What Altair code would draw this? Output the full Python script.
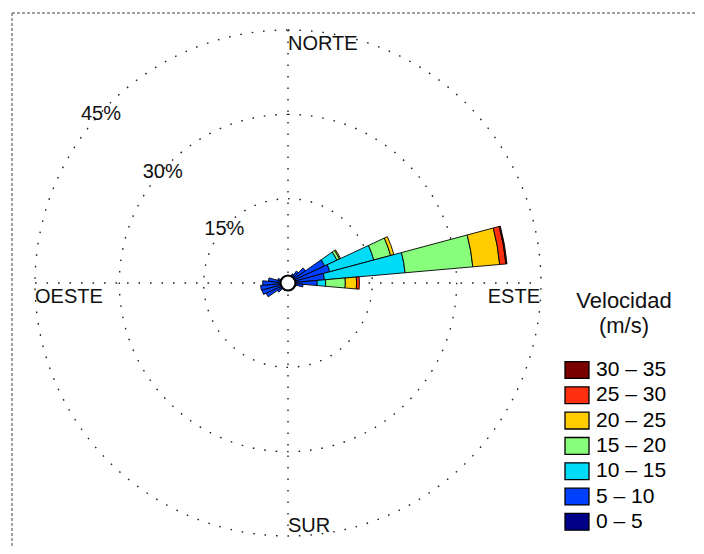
import math
import altair as alt
import pandas as pd

# ---------------- data ----------------
directions = [30, 40, 50, 60, 70, 80, 90, 100, 110, 230, 240, 250, 260, 270, 280, 290]
speed_bins = ["0 – 5", "5 – 10", "10 – 15", "15 – 20", "20 – 25", "25 – 30", "30 – 35"]
freq_0_5   = [1.5, 1.4, 1.3, 1.3, 1.4, 1.5, 1.2, 1.3, 1.0, 1.1, 1.3, 1.4, 1.4, 1.3, 1.2, 1.1]
freq_5_10  = [0.3, 1.2, 2.5, 5.9, 6.3, 5.0, 4.0, 1.4, 0.5, 1.2, 3.0, 3.4, 3.5, 3.2, 2.3, 0.8]
freq_10_15 = [0.0, 0.0, 0.0, 2.4, 8.1, 14.4, 1.5, 0.0, 0.0, 0.0, 0.0, 0.0, 0.0, 0.0, 0.0, 0.0]
freq_15_20 = [0.0, 0.0, 0.0, 0.5, 3.1, 12.1, 3.5, 0.0, 0.0, 0.0, 0.0, 0.0, 0.0, 0.0, 0.0, 0.0]
freq_20_25 = [0.0, 0.0, 0.0, 0.2, 0.6, 4.8, 2.0, 0.0, 0.0, 0.0, 0.0, 0.0, 0.0, 0.0, 0.0, 0.0]
freq_25_30 = [0.0, 0.0, 0.0, 0.0, 0.0, 1.1, 0.5, 0.0, 0.0, 0.0, 0.0, 0.0, 0.0, 0.0, 0.0, 0.0]
freq_30_35 = [0.0, 0.0, 0.0, 0.0, 0.0, 0.2, 0.0, 0.0, 0.0, 0.0, 0.0, 0.0, 0.0, 0.0, 0.0, 0.0]
bin_colors = ["#000088", "#0040FF", "#00DCF8", "#88FF7C", "#FFCC00", "#FF3010", "#7A0000"]
rings = [15, 30, 45]
ring_labels = ["15%", "30%", "45%"]
compass_labels = ["NORTE", "ESTE", "SUR", "OESTE"]
legend_title = ["Velocidad", "(m/s)"]

# ---------------- layout constants ----------------
R = 253            # outer ring radius in px (= 45 %)
W = 2 * R
SECTOR = 10        # sector width in degrees
FONT = "Liberation Sans"
DOT = [1.6, 9.9]

series = [freq_0_5, freq_5_10, freq_10_15, freq_15_20, freq_20_25, freq_25_30, freq_30_35]
rows = []
for i, d in enumerate(directions):
    for k, b in enumerate(speed_bins):
        v = series[k][i]
        if v > 0:
            rows.append({"dir": d, "bin": b, "order": k, "pct": v})
bars_df = pd.DataFrame(rows)
rings_df = pd.DataFrame({"ring": rings, "label": ring_labels})
one = pd.DataFrame({"a": [0]})

rscale = alt.Scale(type="linear", domain=[0, 45], range=[0, R], zero=True)
tscale = alt.Scale(domain=[0, 360], range=[0, 2 * math.pi])
FULL = 6.2832

frame_v = alt.Chart(one).mark_rule(color="#444", strokeDash=[3, 2], strokeWidth=1).encode(
    x=alt.value(-23), y=alt.value(-17), y2=alt.value(700))
frame_h = alt.Chart(one).mark_rule(color="#444", strokeDash=[3, 2], strokeWidth=1).encode(
    x=alt.value(-23), x2=alt.value(800), y=alt.value(-17))

cross_h = alt.Chart(one).mark_rule(color="#222", strokeDash=DOT, strokeWidth=1.4).encode(
    x=alt.value(0), x2=alt.value(W), y=alt.value(R))
cross_v = alt.Chart(one).mark_rule(color="#222", strokeDash=DOT, strokeWidth=1.4).encode(
    x=alt.value(R), y=alt.value(0), y2=alt.value(W))

ring_layer = alt.Chart(rings_df).mark_arc(filled=False, stroke="#222", strokeDash=DOT,
                                          strokeWidth=1.4).encode(
    radius=alt.Radius("ring:Q", scale=rscale, stack=False),
    theta=alt.value(0), theta2=alt.value(FULL))

bars = alt.Chart(bars_df).transform_stack(
    stack="pct", groupby=["dir"], as_=["r0", "r1"], sort=[alt.SortField("order", order="ascending")]
).transform_calculate(
    t0=f"datum.dir - {SECTOR / 2}", t1=f"datum.dir + {SECTOR / 2}"
).mark_arc(stroke="black", strokeWidth=0.9, strokeJoin="round").encode(
    theta=alt.Theta("t0:Q", scale=tscale, stack=False),
    theta2="t1:Q",
    radius=alt.Radius("r1:Q", scale=rscale, stack=False),
    radius2="r0:Q",
    color=alt.Color("bin:N",
                    scale=alt.Scale(domain=list(reversed(speed_bins)), range=list(reversed(bin_colors))),
                    legend=alt.Legend(title=None, orient="none", legendX=529, legendY=327,
                                      symbolType="M-1,-0.7L1,-0.7L1,0.7L-1,0.7Z", symbolSize=576,
                                      symbolStrokeColor="black", symbolStrokeWidth=1.3,
                                      symbolOpacity=1,
                                      labelFontSize=21, labelFont=FONT, labelColor="black",
                                      labelOffset=6, rowPadding=1.3, padding=0)),
)

center = alt.Chart(one).mark_arc(fill="white", stroke="black", strokeWidth=2.2).encode(
    radius=alt.value(7.5), theta=alt.value(0), theta2=alt.value(FULL))

ring_text = alt.Chart(rings_df).mark_text(font=FONT, fontSize=20, color="#111", align="center",
                                          baseline="middle", dx=-2, dy=4).encode(
    text="label:N", radius=alt.Radius("ring:Q", scale=rscale, stack=False),
    theta=alt.value(313 * math.pi / 180))

def compass(i, theta, align, baseline, dx, dy):
    df = pd.DataFrame({"label": [compass_labels[i]], "r": [45]})
    return alt.Chart(df).mark_text(font=FONT, fontSize=20, color="#111", align=align,
                                   baseline=baseline, dx=dx, dy=dy).encode(
        text="label:N", radius=alt.Radius("r:Q", scale=rscale, stack=False), theta=alt.value(theta))

north = compass(0, 0, "left", "top", 0, 4)
east = compass(1, math.pi / 2, "right", "top", -1, 4)
south = compass(2, math.pi, "left", "alphabetic", 0, -4)
west = compass(3, 3 * math.pi / 2, "left", "top", 0, 4)

leg_title = alt.Chart(one).mark_text(font=FONT, fontSize=22, color="#111", align="center",
                                     baseline="alphabetic", lineHeight=25).encode(
    text=alt.value(legend_title), x=alt.value(589), y=alt.value(278))

chart = alt.layer(
    frame_v, frame_h, cross_h, cross_v, ring_layer, bars, center,
    ring_text, north, east, south, west, leg_title
).properties(
    width=W, height=W, autosize="none",
    padding={"left": 27, "top": 22, "right": 155, "bottom": 10},
    background="white",
).configure_view(stroke=None)

chart.save("out.html", embed_options={"renderer": "svg", "actions": False})
